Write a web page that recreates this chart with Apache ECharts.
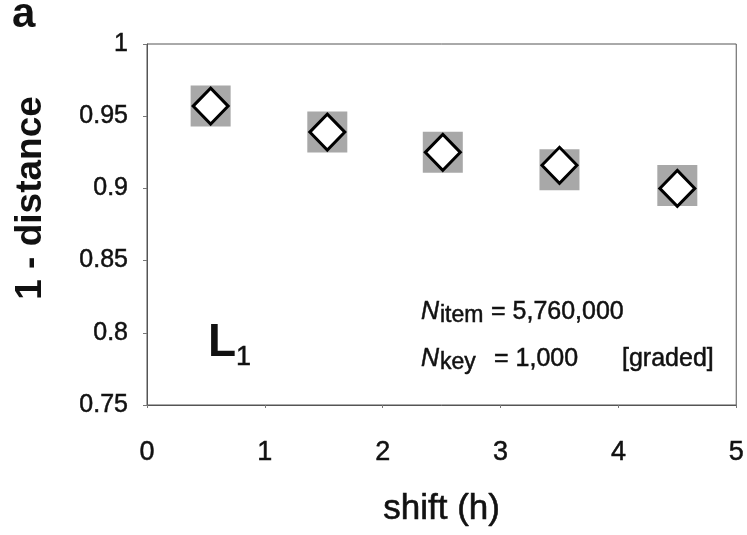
<!DOCTYPE html>
<html>
<head>
<meta charset="utf-8">
<script src="https://cdn.jsdelivr.net/npm/echarts@6/dist/echarts.min.js"></script>
<style>
html,body{margin:0;padding:0;background:#fff;}
#chart{width:747px;height:535px;}
</style>
</head>
<body>
<div id="chart"></div>
<script>
// Data
const shiftHours = [0.54, 1.53, 2.51, 3.50, 4.50];
const similarity = [0.957, 0.939, 0.925, 0.916, 0.900];   // diamonds (1 - distance)
const rangeCenter = [0.957, 0.939, 0.925, 0.913, 0.902];  // grey boxes behind diamonds
const xTicks = [0, 1, 2, 3, 4, 5];
const yTickLabels = ['0.75', '0.8', '0.85', '0.9', '0.95', '1'];

const FONT = '"Liberation Sans", Arial, Helvetica, sans-serif';
const INK = '#111';
const chart = echarts.init(document.getElementById('chart'), null, {renderer: 'canvas'});

const boxData = shiftHours.map((x, i) => [x, rangeCenter[i]]);
const diamondData = shiftHours.map((x, i) => [x, similarity[i]]);

function txt(x, y, text, size, opts) {
  opts = opts || {};
  return {
    type: 'text', x: x, y: y, rotation: opts.rotation || 0, silent: true,
    style: {
      text: text,
      fontFamily: FONT, fontSize: size,
      fontWeight: opts.weight || 'normal',
      fontStyle: opts.style || 'normal',
      fill: INK,
      stroke: opts.weight === 'bold' ? null : INK,
      lineWidth: opts.weight === 'bold' ? 0 : 0.5,
      align: opts.align || 'left',
      verticalAlign: 'middle'
    }
  };
}

chart.setOption({
  animation: false,
  backgroundColor: '#ffffff',
  grid: {
    left: 147, right: 7, top: 44, bottom: 130,
    show: true, borderColor: '#555', borderWidth: 1, backgroundColor: 'transparent'
  },
  xAxis: {
    type: 'value', min: 0, max: 5, interval: 1,
    name: 'shift (h)', nameLocation: 'middle', nameGap: 87,
    nameTextStyle: {fontFamily: FONT, fontSize: 35, color: INK, textBorderColor: INK, textBorderWidth: 0.6},
    axisLine: {show: true, onZero: false, lineStyle: {color: '#555', width: 1}},
    axisTick: {show: true, length: 3, inside: false, lineStyle: {color: '#777'}},
    axisLabel: {
      margin: 34, fontFamily: FONT, fontSize: 27, color: INK,
      textBorderColor: INK, textBorderWidth: 0.5,
      formatter: v => xTicks.includes(v) ? String(v) : ''
    },
    splitLine: {show: false}
  },
  yAxis: {
    type: 'value', min: 0.75, max: 1, interval: 0.05,
    axisLine: {show: true, onZero: false, lineStyle: {color: '#555', width: 1}},
    axisTick: {show: true, length: 4, inside: false, lineStyle: {color: '#777'}},
    axisLabel: {
      margin: 19, fontFamily: FONT, fontSize: 25, color: INK,
      textBorderColor: INK, textBorderWidth: 0.5,
      formatter: v => {
        const idx = Math.round((v - 0.75) / 0.05);
        return yTickLabels[idx] !== undefined ? yTickLabels[idx] : '';
      }
    },
    splitLine: {show: false}
  },
  series: [
    {
      type: 'scatter', name: 'range', data: boxData,
      symbol: 'rect', symbolSize: [40, 41],
      itemStyle: {color: '#a8a8a8', opacity: 1},
      z: 2, silent: true
    },
    {
      type: 'scatter', name: '1 - distance', data: diamondData,
      symbol: 'diamond', symbolSize: [35, 36],
      itemStyle: {color: '#ffffff', borderColor: '#000', borderWidth: 3, opacity: 1},
      z: 3, silent: true
    }
  ],
  graphic: [
    txt(12, 15, 'a', 42, {weight: 'bold'}),
    txt(31, 198, '1 - distance', 37, {weight: 'bold', align: 'center', rotation: Math.PI / 2}),
    // L1 label
    txt(208, 343, 'L', 46, {weight: 'bold'}),
    txt(236, 358, '1', 27),
    // N_item line
    txt(421, 312, 'N', 25, {style: 'italic'}),
    txt(440, 316, 'item', 23),
    txt(491, 312, '= 5,760,000', 25),
    // N_key line
    txt(421, 359, 'N', 25, {style: 'italic'}),
    txt(440, 363, 'key', 23),
    txt(494, 359, '= 1,000', 25),
    txt(622, 359, '[graded]', 25)
  ]
});
</script>
</body>
</html>
